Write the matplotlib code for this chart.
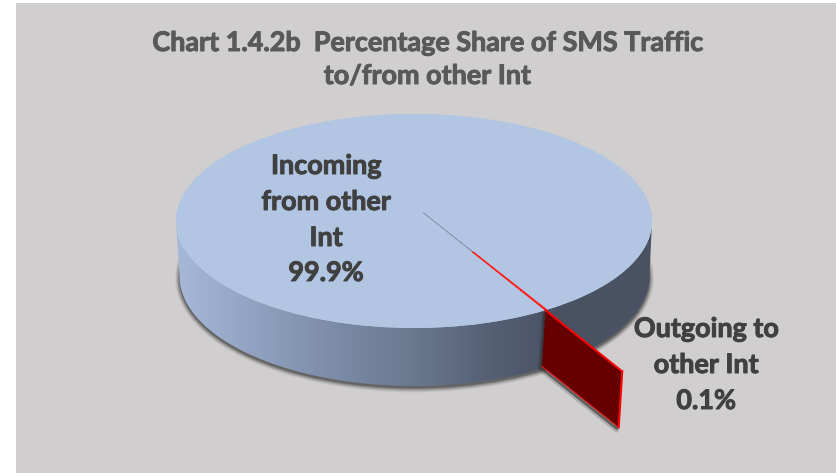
import numpy as np
import matplotlib
matplotlib.use("Agg")
import matplotlib.pyplot as plt
import matplotlib.patheffects as pe
from matplotlib.colors import LinearSegmentedColormap
from matplotlib.patches import Rectangle, Ellipse, Polygon, Wedge
from matplotlib.transforms import Affine2D

categories = ["Incoming from other Int", "Outgoing to other Int"]
values = [99.9, 0.1]
title_lines = ["Chart 1.4.2b  Percentage Share of SMS Traffic", "to/from other Int"]
label_lines = [["Incoming", "from other", "Int"], ["Outgoing to", "other Int"]]

W, H = 836, 473
CX, CY, A, B = 414, 221, 238, 107     # top ellipse, pixels
BCX, BCY, BA, BB = 414.5, 276, 235, 110  # bottom rim ellipse, pixels
FONT = "Lato"
BG = "#D0CECE"
TOP = "#B2C6E3"

fig = plt.figure(figsize=(W / 100, H / 100), dpi=100, facecolor="white")
fig.add_artist(Rectangle((16 / W, 0), 1 - 16 / W, 1 - 3 / H, transform=fig.transFigure,
                         facecolor=BG, edgecolor="none", zorder=-10))

ax = fig.add_axes([0, 0, 1, 1])
px = lambda x: (x - CX) / A
py = lambda y: (CY - y) / B

slice_angle = -60.6
sweep = 360 * values[1] / sum(values)
wedges, _ = ax.pie(values, colors=[TOP, "#FF0000"], startangle=slice_angle + sweep,
                   radius=1, wedgeprops=dict(linewidth=0), normalize=True)
ax.set_aspect("auto")
ax.axis("off")
wedges[0].set_zorder(6)
ax.add_patch(Ellipse((0, 0), 2, 2, facecolor=TOP, edgecolor="none", zorder=5.9))

# shadow of the pie body
bw = 2 * BA / A
bh = 2 * BB / B
bc = (px(BCX), py(BCY + 2))
for grow, alpha in [(4.5, .06), (3.5, .10), (2.5, .14), (1.5, .2), (.5, .3)]:
    ax.add_patch(Ellipse(bc, bw + 2 * grow / A, bh + 2 * grow / B, facecolor="#202020",
                         edgecolor="none", alpha=alpha, zorder=1))

# side wall with a horizontal gradient
t = np.linspace(np.pi, 2 * np.pi, 200)
upper = np.c_[np.cos(t), np.sin(t)]
lower = np.c_[px(BCX + BA * np.cos(t)), py(BCY - BB * np.sin(t))]
wall = Polygon(np.r_[upper, lower[::-1]], closed=True, facecolor="none", edgecolor="none",
               transform=ax.transData)
ax.add_patch(wall)
cmap = LinearSegmentedColormap.from_list("wall", [
    (0.00, "#A6B9D9"), (0.32, "#7D8DA9"), (0.50, "#6A798F"),
    (0.65, "#566176"), (0.80, "#4A5264"), (1.00, "#4A5163")])
img = ax.imshow(np.linspace(0, 1, 480)[None, :], cmap=cmap, aspect="auto",
                extent=(-1, 1, py(H), py(0)), zorder=2, interpolation="bilinear")
img.set_clip_path(wall)
ax.set_xlim(px(0), px(W))
ax.set_ylim(py(H), py(0))

# exploded thin slice
tip = (px(423), py(212.5))
slice_radius = 1.705
direction = np.array([np.cos(np.radians(slice_angle)), np.sin(np.radians(slice_angle))])
b_ = np.dot(tip, direction)
r_rim = -b_ + np.sqrt(b_ ** 2 - (np.dot(tip, tip) - 1))
r_gray = 0.42
inner = np.array(tip) + r_rim * direction
outer = np.array(tip) + slice_radius * direction
drop = np.array([-3.5 / A, -56 / B])
face = [inner, outer, outer + drop, inner + drop]

ax.add_patch(Polygon(face, closed=True, facecolor="#303030", edgecolor="#303030", lw=3,
                     alpha=.22, zorder=6.5, joinstyle="round",
                     transform=ax.transData + Affine2D().translate(-2, -3)))
ax.add_patch(Polygon(face, closed=True, facecolor="#303030", edgecolor="#303030", lw=1.2,
                     alpha=.4, zorder=6.6,
                     transform=ax.transData + Affine2D().translate(-1.5, -2)))
ax.add_patch(Polygon(face, closed=True, facecolor="#660000", edgecolor="none", zorder=7))
ax.plot(*zip(inner, outer), color="#FF0000", lw=1.5, zorder=8, solid_capstyle="round")
ax.plot(*zip(outer, outer + drop), color="#FF0000", lw=1.5, zorder=8)
ax.plot(*zip(outer + drop, inner + drop), color="#E01010", lw=0.8, zorder=8)

wedges[1].set_center(tip)
wedges[1].set_radius(r_rim)
wedges[1].set_width(r_rim - r_gray)
wedges[1].set_edgecolor("#FF2020")
wedges[1].set_linewidth(0.8)
wedges[1].set_zorder(7.5)
ax.add_patch(Wedge(tip, r_gray, slice_angle, slice_angle + sweep, facecolor="#8593AE",
                   edgecolor="#8593AE", lw=0.4, zorder=7.5))


def label(x, y, s, size, color):
    fig.text(x / W, 1 - y / H, s, ha="center", va="center", fontsize=size,
             fontweight="bold", family=FONT, color=color,
             path_effects=[pe.withStroke(linewidth=0.7, foreground=color)])


label(427, 43, title_lines[0], 19.4, "#595959")
label(427, 76, title_lines[1], 19.4, "#595959")

for y, s in zip([166, 202, 238, 273], label_lines[0] + [f"{values[0]}%"]):
    label(326, y, s, 19.4, "#404040")
for y, s in zip([329, 365, 401], label_lines[1] + [f"{values[1]}%"]):
    label(706, y, s, 19.4, "#404040")

fig.savefig("out.png", dpi=100)
